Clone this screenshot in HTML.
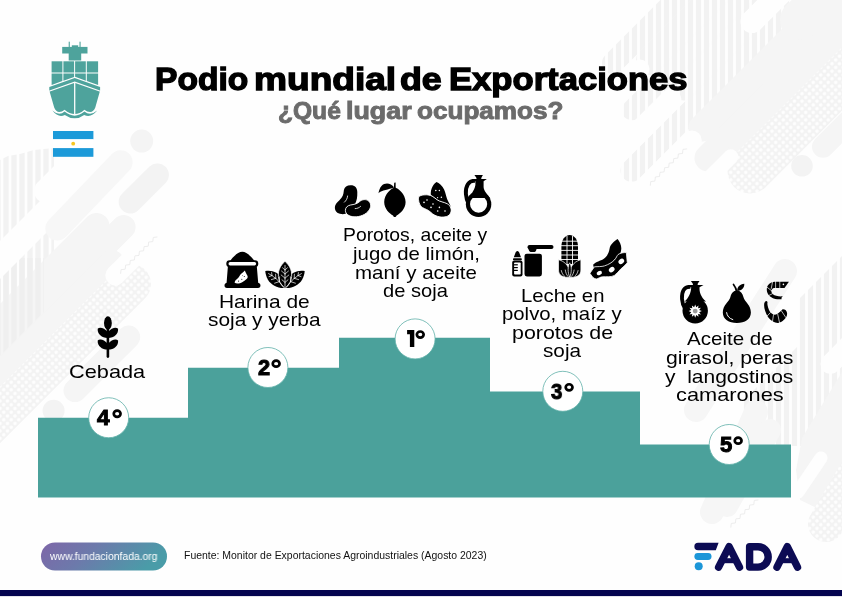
<!DOCTYPE html>
<html lang="es"><head><meta charset="utf-8">
<title>Podio mundial de Exportaciones</title>
<style>
html,body{margin:0;padding:0;}
body{width:842px;height:597px;position:relative;overflow:hidden;background:#fefefe;font-family:"Liberation Sans",sans-serif;color:#000;}
#bg{position:absolute;left:0;top:0;width:842px;height:597px;}
.tx{position:absolute;white-space:nowrap;transform-origin:0 0;font-family:"Liberation Sans",sans-serif;will-change:transform;}
.step{position:absolute;background:#4ca29b;}
.circ{position:absolute;width:38px;height:38px;border-radius:50%;background:#fff;border:1px solid #4ca29b;}
#bar{position:absolute;left:0;top:589.5px;width:842px;height:6.5px;background:#04044f;}
#barb{position:absolute;left:0;top:596px;width:842px;height:1px;background:#e4e4ea;}
#pill{position:absolute;left:41px;top:542.5px;width:126px;height:28px;border-radius:14px;background:linear-gradient(100deg,#7d67a8 0%,#6f78aa 40%,#4b9ba8 100%);}
.ic{position:absolute;}
</style></head><body>
<svg id="bg" viewBox="0 0 842 597">
<defs>
<pattern id="stp" width="8" height="8" patternUnits="userSpaceOnUse"><rect x="0" y="0" width="0.7" height="8" fill="#f2f2f2"/><rect x="3.3" y="0" width="4.7" height="8" fill="#f2f2f2"/></pattern>
<pattern id="stp2" width="8" height="8" patternUnits="userSpaceOnUse"><rect x="0" y="0" width="0.7" height="8" fill="#efefef"/><rect x="3.3" y="0" width="4.7" height="8" fill="#efefef"/></pattern>
<pattern id="stp3" width="8" height="8" patternUnits="userSpaceOnUse"><rect x="0" y="0" width="5.1" height="8" fill="#f2f2f2"/><rect x="7.9" y="0" width="0.1" height="8" fill="#f2f2f2"/></pattern>
<pattern id="dots" width="5.3" height="5.3" patternUnits="userSpaceOnUse" patternTransform="rotate(45)"><rect width="5.3" height="5.3" fill="#f3f3f3"/><circle cx="2.65" cy="2.65" r="1.75" fill="#fefefe"/></pattern>
<linearGradient id="pg" x1="0" y1="0" x2="1" y2="0.25"><stop offset="0" stop-color="#7e66a8"/><stop offset="0.45" stop-color="#6c7aab"/><stop offset="1" stop-color="#4a9ca8"/></linearGradient>
</defs>
<!--BG-->
<g id="decor" fill="none" stroke-linecap="round">
<!-- LEFT -->
<path d="M0,160L8,156L20,154L34,150L54,148V300H0Z" fill="url(#stp)"/>
<g stroke="#f5f5f5">
<line x1="96.5" y1="226" x2="-30" y2="352.5" stroke-width="26"/>
<line x1="123.6" y1="227" x2="-30" y2="380.6" stroke-width="24"/>
<line x1="112" y1="262" x2="-30" y2="404" stroke-width="24"/>
</g>
<path d="M0,258H44V312L0,356Z" fill="url(#stp2)"/>
<line x1="131" y1="284" x2="-30" y2="445" stroke="url(#dots)" stroke-width="40"/>
<g stroke="#fefefe">
<line x1="46" y1="191" x2="120" y2="117" stroke-width="24"/>
<line x1="-12" y1="272" x2="62" y2="198" stroke-width="27"/>
<line x1="115.3" y1="275.4" x2="140" y2="250.7" stroke-width="20"/>
</g>
<line x1="57.3" y1="228.5" x2="120.6" y2="162.2" stroke="#f7f7f7" stroke-width="24"/>
<line x1="130.2" y1="202" x2="157.4" y2="174.9" stroke="#f3f3f3" stroke-width="23"/>
<circle cx="141.7" cy="141.1" r="11.5" fill="#f4f4f4"/>
<line x1="128.7" y1="337" x2="75" y2="390.6" stroke="#f5f5f5" stroke-width="23"/>
<circle cx="53.6" cy="410.8" r="11" fill="#f3f3f3"/>
<path d="M120.6,273.8l0.46,-4.14l4.14,-0.46l0.46,-4.14l4.14,-0.46l0.46,-4.14l4.14,-0.46l0.46,-4.14l4.14,-0.46l0.46,-4.14l4.14,-0.46l0.46,-4.14l4.14,-0.46l0.46,-4.14l4.14,-0.46l0.46,-4.14l4.14,-0.46" stroke="#e9e9e9" stroke-width="0.8" stroke-linecap="butt"/>
<!-- TOP RIGHT -->
<g stroke="url(#stp3)">
<line x1="613" y1="63" x2="710" y2="-34" stroke-width="22"/>
<line x1="650" y1="61" x2="750" y2="-39" stroke-width="28"/>
<line x1="631.5" y1="110.3" x2="790" y2="-48" stroke-width="20"/>
<line x1="684" y1="87" x2="810" y2="-39" stroke-width="27"/>
<line x1="631.5" y1="170.6" x2="850" y2="-48" stroke-width="22"/>
</g>
<g stroke="#f5f5f5">
<line x1="702" y1="128" x2="880" y2="-50" stroke-width="27"/>
<line x1="708" y1="158" x2="900" y2="-34" stroke-width="27"/>
<line x1="738" y1="150" x2="900" y2="-12" stroke-width="20"/>
<line x1="823" y1="146.7" x2="870" y2="99.7" stroke-width="22"/>
<line x1="800" y1="20" x2="870" y2="-50" stroke-width="40"/>
</g>
<line x1="750" y1="171" x2="900" y2="21" stroke="url(#dots)" stroke-width="45"/>
<circle cx="802" cy="165.8" r="10.8" fill="#f3f3f3"/>
<g stroke="#fefefe">
<line x1="640" y1="69" x2="560" y2="149" stroke-width="19"/>
<line x1="670.4" y1="100.2" x2="570" y2="200.6" stroke-width="22"/>
<line x1="691.8" y1="140.4" x2="600" y2="232" stroke-width="20"/>
<line x1="730.8" y1="156.8" x2="700" y2="187.6" stroke-width="15"/>
<line x1="752" y1="21.6" x2="800" y2="-26.4" stroke-width="23"/>
</g>
<path d="M650.3,185.7l0.46,-4.14l4.14,-0.46l0.46,-4.14l4.14,-0.46l0.46,-4.14l4.14,-0.46l0.46,-4.14l4.14,-0.46l0.46,-4.14l4.14,-0.46l0.46,-4.14l4.14,-0.46l0.46,-4.14l4.14,-0.46l0.46,-4.14l4.14,-0.46" stroke="#e9e9e9" stroke-width="0.8" stroke-linecap="butt"/>
<!-- RIGHT BOTTOM -->
<path d="M842,256L798,300V346L742,402V446H842Z" fill="url(#stp3)"/>
<g stroke="#f6f6f6">
<line x1="785" y1="271" x2="696" y2="410" stroke-width="24"/>
<line x1="756" y1="412" x2="712" y2="512" stroke-width="24"/>
<line x1="770" y1="430" x2="727" y2="506" stroke-width="22"/>
<path d="M842,372L802,438L796,470L800,500L842,520Z" fill="#f5f5f5" stroke="none"/>
</g>
<g stroke="#fefefe">
<line x1="798" y1="492" x2="821" y2="458" stroke-width="13"/>
<line x1="830.5" y1="364" x2="860" y2="334" stroke-width="20"/>
</g>
<line x1="826" y1="524" x2="870" y2="450" stroke="url(#dots)" stroke-width="36"/>
<path d="M730.8,527.6l0.46,-4.14l4.14,-0.46l0.46,-4.14l4.14,-0.46l0.46,-4.14l4.14,-0.46l0.46,-4.14l4.14,-0.46l0.46,-4.14l4.14,-0.46l0.46,-4.14l4.14,-0.46" stroke="#e9e9e9" stroke-width="0.8" stroke-linecap="butt"/>
</g>
<!--/BG-->
<!--PODIUM-->
<path fill="#4ba19b" d="M38,417.7H188V367.7H339V337.8H490V391.5H640V444.6H791V497.6H38Z"/>
<g fill="#fff" stroke="#5fb0a8" stroke-width="0.8">
<circle cx="108.7" cy="417.75" r="20"/>
<circle cx="267.9" cy="367.5" r="20"/>
<circle cx="415.1" cy="338.9" r="20"/>
<circle cx="562.8" cy="391.3" r="20"/>
<circle cx="729.2" cy="444.5" r="20"/>
</g>
<g fill="none" stroke="#000" stroke-width="2.7">
<ellipse cx="117.15" cy="413.75" rx="3.4" ry="3.05"/>
<ellipse cx="276.15" cy="363.65" rx="3.4" ry="3.05"/>
<ellipse cx="420.25" cy="334.55" rx="3.4" ry="3.05"/>
<ellipse cx="569.1" cy="387.3" rx="3.4" ry="3.05"/>
<ellipse cx="738.15" cy="440.65" rx="3.4" ry="3.05"/>
</g>
<path fill="#000" d="M407.1,330.1H414.3V346.9H409.9V334.2H407.1Z"/>
<!--/PODIUM-->
<!--ICONS-->
<g id="wheat" fill="#000">
<ellipse cx="107.9" cy="323" rx="3.9" ry="6.7"/>
<rect x="106.6" y="326" width="2.6" height="31.9" rx="1.3"/>
<path d="M97.7,328.7C99.6,327 104.2,327.6 107.9,332.3V337.9C101.8,338 97.3,334 97.7,328.7Z"/>
<path d="M118.1,328.7C116.2,327 111.6,327.6 107.9,332.3V337.9C114,338 118.5,334 118.1,328.7Z"/>
<path d="M97.7,340.4C99.6,338.7 104.2,339.3 107.9,344V349.6C101.8,349.7 97.3,345.7 97.7,340.4Z"/>
<path d="M118.1,340.4C116.2,338.7 111.6,339.3 107.9,344V349.6C114,349.7 118.5,345.7 118.1,340.4Z"/>
</g>
<g id="sack">
<path fill="#000" d="M229.8,261.5C232.5,257.5 237.5,251.8 242.3,251.8C247,251.8 252,257.5 254.8,261.5Z"/>
<rect x="226.3" y="260.3" width="32" height="6.9" rx="3.4" fill="#000"/>
<rect x="228.5" y="262.1" width="27.6" height="3.3" rx="1.65" fill="#fff"/>
<path fill="#000" d="M227.9,266.3H256.8L258.2,282.8C261.2,283.4 261.3,287.9 258,287.9H227C223.7,287.9 223.8,283.4 226.6,282.8Z"/>
<path fill="#fff" d="M234.6,282.8C234.8,280.5 236.5,279.5 237.8,278.3C239.3,277 239.8,275 241.2,273.8C242.6,272.6 243.6,271.6 244.9,270.4C245.6,272.4 246.4,273.8 247.2,275.2C248,276.6 247.9,277.8 246.6,279C245.2,280.3 243.8,281.3 242.2,282.3C240,283.6 236.5,284.2 234.6,282.8Z"/>
<g fill="#000"><circle cx="238.6" cy="281.1" r="0.55"/><circle cx="241.8" cy="279.2" r="0.55"/><circle cx="244.3" cy="276.5" r="0.55"/><circle cx="242.5" cy="275.6" r="0.45"/></g>
</g>
<g id="yerba">
<path fill="#000" d="M265.3,271.1C272,269.8 279,272.8 282.3,278.8C283.8,281.8 284.3,284.8 284.6,288C278,288.5 271,285 267.8,279.4C266.2,276.4 265.4,273.9 265.3,271.1Z"/>
<path fill="#000" d="M304.7,271.1C298,269.8 291,272.8 287.7,278.8C286.2,281.8 285.7,284.8 285.4,288C292,288.5 299,285 302.2,279.4C303.8,276.4 304.6,273.9 304.7,271.1Z"/>
<path fill="#000" stroke="#fff" stroke-width="0.8" d="M285,261.3C290.3,265.8 292.8,272 291.2,279.2C290.2,283.2 287.6,286.6 285,288.3C282.4,286.6 279.8,283.2 278.8,279.2C277.2,272 279.7,265.8 285,261.3Z"/>
<g fill="none" stroke="#fff" stroke-width="0.7" stroke-linecap="round">
<path d="M285,265.5V286.5M285,270L282.6,267.8M285,270L287.4,267.8M285,274L281.5,271M285,274L288.5,271M285,278.2L281.2,275M285,278.2L288.8,275M285,282.4L282,279.8M285,282.4L288,279.8"/>
<path d="M268.6,273.6C274,276.5 279.5,281 283.2,286.6M272,275.6L271.6,272.6M272,275.6L269,276.6M275.8,278.3L275.6,274.2M275.8,278.3L271.4,279.6M279.4,281.6L279.6,276.8M279.4,281.6L274.6,283.2"/>
<path d="M301.4,273.6C296,276.5 290.5,281 286.8,286.6M298,275.6L298.4,272.6M298,275.6L301,276.6M294.2,278.3L294.4,274.2M294.2,278.3L298.6,279.6M290.6,281.6L290.4,276.8M290.6,281.6L295.4,283.2"/>
</g>
</g>
<g id="beans">
<path fill="#000" d="M350.5,185.2C354.6,185 357.3,187.6 357.3,192C357.4,197 357,200.2 355,204.2C352,210.2 347,214.6 341.5,214.1C337,213.7 334.5,210.6 334.9,207C335.3,203.4 339,201 341.4,198C343.8,195 343.4,192.5 343.9,190C344.5,187 347,185.3 350.5,185.2Z"/>
<path fill="#000" stroke="#fff" stroke-width="0.9" d="M345.4,210.6C345.3,207.6 347.4,205.6 350.5,205C354,204.4 357,204 359.6,201.6C362.2,199.2 366,198.9 368.6,201C371.3,203.2 371.2,207 369.2,210C366.2,214.6 360,217.1 354,216.8C349,216.5 345.5,214.1 345.4,210.6Z"/>
<g fill="none" stroke="#fff" stroke-width="0.8" stroke-linecap="round"><path d="M347.6,196C347.4,198.6 346.2,200.6 344.4,202.2"/><path d="M355.2,208.6C357.2,208.6 359.2,207.8 360.6,206.4"/></g>
</g>
<g id="lemon" fill="#000">
<path d="M394.8,187.4C398,187.9 405.6,194 405.6,202C405.6,209 400,213.6 396.6,215.6C396.1,216.6 395.6,217.1 394.8,217.1C394,217.1 393.5,216.6 393,215.6C389.6,213.6 384.2,209 384.2,202C384.2,194 391.6,187.9 394.8,187.4Z"/>
<path d="M393.9,188.5L394.2,182.8L395.6,182.5L395.7,188.5Z"/>
<path d="M394.2,187.6C391,182.9 385,182.4 381.5,185.9C379.7,187.9 379,190.5 378.5,193.3C382,190 388.5,189.8 394.2,187.6Z"/>
</g>
<g id="peanut">
<path fill="#000" d="M436.5,181.9C439,182.9 442.6,186 444.1,189.5C445.6,193 446.1,196 447.1,199C448.1,202 450.1,204 450.8,207C447,203.6 443,202.6 440,201.6C436,200.2 433,196.6 430.9,195.1C430.4,191 431.9,185 436.5,181.9Z"/>
<path fill="#000" stroke="#fff" stroke-width="0.9" d="M418.7,197C419.4,195.4 424,194.5 428,194.9C432,195.3 434,197.4 437,199.7C440,201.9 444,201.9 447.5,203.9C451,205.9 451.9,210 450.6,213C449.1,216.6 444.5,217.6 440,216.9C436,216.3 433,214.6 430.5,212.1C428,209.6 425,209.1 422.5,207.6C419.4,205.6 417.9,200 418.7,197Z"/>
<g fill="#fff"><circle cx="435.8" cy="190.5" r="0.75"/><circle cx="439.4" cy="190.5" r="0.75"/><circle cx="441.4" cy="197.3" r="0.75"/><circle cx="437.6" cy="197.6" r="0.6"/>
<circle cx="427" cy="200" r="0.8"/><circle cx="424" cy="202.4" r="0.8"/><circle cx="433" cy="204" r="0.8"/><circle cx="431" cy="207.4" r="0.8"/><circle cx="439.4" cy="207.4" r="0.8"/><circle cx="437.7" cy="211" r="0.8"/><circle cx="445" cy="211" r="0.8"/></g>
</g>
<g id="bottle">
<circle cx="478.6" cy="204.2" r="12.7" fill="#000"/>
<path fill="#000" d="M474.4,174.9H482.9L481.5,177.4L481.2,179H486.9L483.6,181.3V187C483.8,191 487,194 490.5,198.5H466.5C470.5,195.5 474.3,191 475.4,185L475.4,181.3H473L471.9,179H476.6L476.2,177.4Z"/>
<path fill="none" stroke="#000" stroke-width="3.9" d="M475,181C469,180.2 465.3,186 465.9,194C466.2,198 467.2,201 468.6,203.5"/>
<path fill="#fff" d="M472.6,197.9H484.6A8.6,8.6 0 1 1 472.6,197.9Z"/>
</g>
<g id="milk">
<rect x="524.5" y="253.8" width="17.4" height="22.6" rx="2.3" fill="#000"/>
<rect x="527.5" y="245" width="26" height="4.1" rx="2" fill="#000"/>
<path fill="#000" d="M527.6,247H537.2L536,250.8C535.8,251.5 535.3,251.9 534.6,251.9H530.6C529.9,251.9 529.4,251.5 529.1,250.8Z"/>
<path fill="#000" d="M517.4,250.9C518.5,250.9 519,251.9 519.4,253L521,257.3H513.8L515.4,253C515.8,251.9 516.3,250.9 517.4,250.9Z"/>
<rect x="513" y="258.2" width="8.8" height="2" rx="0.8" fill="#000"/>
<rect x="512.2" y="260.6" width="10.3" height="15.8" rx="2" fill="#000"/>
<rect x="514.1" y="262.4" width="6.6" height="12.2" rx="0.8" fill="#fff"/>
<g fill="#000"><rect x="514" y="264.2" width="3.8" height="1.2"/><rect x="514" y="267" width="3.8" height="1.2"/><rect x="514" y="269.8" width="3.8" height="1.2"/></g>
</g>
<g id="corn">
<path fill="#000" d="M561.4,264V246.5C561.4,240 565,235 569.7,235C574.4,235 578,240 578,246.5V264Z"/>
<g fill="none" stroke="#fff" stroke-width="0.9"><path d="M567,236V264M572.5,236V264" /><path d="M560,241.2H580M560,245.7H580M560,250.4H580M560,255H580M560,259.5H580"/></g>
<path fill="#000" stroke="#fff" stroke-width="0.7" d="M569.7,277.2C563,277.8 558.6,275.5 558.5,270V259.8C563.5,260.8 568.6,265 569.7,271.5Z"/>
<path fill="#000" stroke="#fff" stroke-width="0.7" d="M569.7,277.2C576.4,277.8 580.8,275.5 580.9,270V259.8C575.9,260.8 570.8,265 569.7,271.5Z"/>
<path fill="#000" stroke="#fff" stroke-width="0.7" d="M569.7,262.8C571.8,266 571.8,272.5 569.7,277.2C567.6,272.5 567.6,266 569.7,262.8Z"/>
<g fill="none" stroke="#fff" stroke-width="0.7" stroke-linecap="round"><path d="M561.3,270.5C561.8,273 563,275 564.6,276.3M565.3,270C565.6,272.6 566.6,274.8 567.8,276.3M578.1,270.5C577.6,273 576.4,275 574.8,276.3M574.1,270C573.8,272.6 572.8,274.8 571.6,276.3"/></g>
</g>
<g id="soy">
<path fill="#000" d="M593.1,264.8C596,261.5 600.5,261 603.5,259C607,256.5 609,253 609.6,248.5C610.2,244.5 614.5,241 617.6,239C619.6,241.5 621.4,245 621.3,248.5C621.2,251 620.5,253 619.8,254.5L608,266L594,268Z"/>
<path fill="#000" stroke="#fff" stroke-width="0.8" stroke-linejoin="round" d="M589.9,273.3L594.4,266.8C598,266.5 601.5,266.8 604.4,265.9C608.5,264.6 612,262.5 614.4,260C616.5,257.8 616.8,255.8 618,254.6C620.5,252.8 623.5,252.6 626.3,252.5L627.3,262.8C625.5,265 623,267 620.7,269.1C618.5,271.2 617,273.8 614.4,275.4C611,277.4 606.5,276.5 602.6,276.8C600,277 598.5,278.5 596.3,279C594.8,278.8 593.7,278 592.7,277.2Z"/>
<g fill="#fff"><ellipse cx="599.3" cy="273" rx="2.8" ry="2" transform="rotate(-28 599.3 273)"/><ellipse cx="611.7" cy="269.6" rx="3.1" ry="2.4" transform="rotate(-38 611.7 269.6)"/><ellipse cx="621.3" cy="261.4" rx="3.1" ry="2.4" transform="rotate(-38 621.3 261.4)"/></g>
</g>
<g id="jug">
<circle cx="695.2" cy="310.7" r="12.7" fill="#000"/>
<path fill="#000" d="M690.9,280.9H699.5L697.8,283.5L697.6,285H703.5L699.5,287.2C699.3,292 700.5,296.5 706,301.5H684.5C688.5,298 691,293 691.2,287.2H689L687.9,285H693L692.7,283.5Z"/>
<path fill="none" stroke="#000" stroke-width="3.8" d="M690.5,287C684,286.2 681.5,292 682,299C682.3,303 683.4,306 685,308.5"/>
<path fill="#fff" d="M695.20,304.50L696.26,307.14L698.50,305.38L698.10,308.20L700.92,307.80L699.16,310.04L701.80,311.10L699.16,312.16L700.92,314.40L698.10,314.00L698.50,316.82L696.26,315.06L695.20,317.70L694.14,315.06L691.90,316.82L692.30,314.00L689.48,314.40L691.24,312.16L688.60,311.10L691.24,310.04L689.48,307.80L692.30,308.20L691.90,305.38L694.14,307.14Z"/>
<circle cx="695.2" cy="311.1" r="2.4" fill="#9a9a9a"/>
</g>
<g id="pear">
<path fill="#000" d="M736.9,290.4C740.6,290.4 742.6,293.5 743.4,297C744.6,302 750.9,305 750.9,312.5C750.9,319 745,323 736.9,323C728.8,323 722.8,319 722.8,312.5C722.8,305 729.2,302 730.4,297C731.2,293.5 733.2,290.4 736.9,290.4Z"/>
<path fill="none" stroke="#000" stroke-width="1.7" stroke-linecap="round" d="M736.8,292C736.3,289 735,286.4 733.5,284.5"/>
<path fill="#000" d="M737.2,291C737,287 739.8,284.2 744.3,283.8C744.6,288 741.6,290.8 737.2,291Z"/>
<path fill="none" stroke="#fff" stroke-width="1" stroke-linecap="round" d="M726.6,312.6C727,316 729.4,318.6 732.8,319.6"/>
</g>
<g id="shrimp">
<path fill="#000" d="M780.2,281.7H788.9L784.5,288H780.2Z"/>
<circle cx="783.4" cy="284.4" r="0.8" fill="#fff"/>
<path fill="#000" d="M779.5,281.7H774.3C772.8,281.9 771.2,282.5 770,283.2C768.3,284.3 767.4,285.8 767,287.5C766.6,289.3 766.8,291.3 767.5,292.9C768.2,294.6 769.4,296 770.9,297C772.2,297.9 773.7,298.6 775.3,299C777.4,299.4 779.5,299.4 781.6,299.2C781.2,297.6 782,296.8 782.9,296.3C780.7,296.5 778.4,296.4 776.3,295.8C775,295.5 773.8,295 772.9,294.3C772,293.5 771.5,292.5 771.4,291.4C771.3,290.7 771.5,290 771.9,289.5C772.4,288.8 773,288.3 773.8,288H779.5Z"/>
<g fill="none" stroke="#fff" stroke-width="0.7"><path d="M775.6,281V288.6M772.6,281.6L771.2,288.8M767,287.2L772.2,291.2M768.6,295.6L772.6,293.6"/></g>
<path fill="#000" d="M765.1,301.6C764.3,302.7 764,303.9 764.1,305C764.1,307 764.5,309 765.1,310.8C765.8,313.1 766.8,315.2 768,317.1C769.3,318.9 771,320.4 772.9,321.5C774.4,322.4 776,322.9 777.7,323C779.5,322.8 781.2,322.1 782.6,321C784,320 785.2,318.9 786,317.6C786.8,316.3 787.2,314.8 787.1,313.3C787,312 786.4,310.8 785.5,309.9C784.7,309.3 783.7,309.1 782.6,309.2C782.2,309.8 781.7,310.3 781.1,310.8C780.3,311.8 779.3,312.6 778.2,313.3C777.2,314 776,314.6 774.8,314.7C773.5,314.6 772.3,314.1 771.4,313.3C770.3,312.4 769.5,311.2 769,309.9C768.3,308.4 767.8,306.7 767.5,305C767.3,304 767.3,303 767.5,302.1C767.3,301.6 767,301.3 766.6,301.1Z"/>
<g fill="none" stroke="#fff" stroke-width="0.7"><path d="M770.6,312.4L766.6,316.6M773.6,314.2L772.4,322M777.6,313.6L779.6,323M781.2,310.6L786,317.8"/></g>
</g>
<!--/ICONS-->
<!--SHIP-->
<g fill="#4ea39c">
<rect x="68.7" y="41.7" width="1.1" height="5.5"/><rect x="79.5" y="41.7" width="1.1" height="5.5"/>
<rect x="71.8" y="45.3" width="6.4" height="2"/>
<rect x="62.2" y="46.9" width="25.3" height="6.6"/>
<rect x="68.7" y="53" width="12.5" height="7.5"/>
<rect x="51.6" y="61.3" width="10.8" height="11.2"/><rect x="63.4" y="61.3" width="10.7" height="11.2"/><rect x="75.1" y="61.3" width="10.7" height="11.2"/><rect x="86.8" y="61.3" width="11.3" height="11.2"/>
<path d="M51.6,73.5H62.4V81.1L51.6,85Z"/><path d="M63.4,73.5H74.1V76.9L63.4,80.75Z"/><path d="M75.1,73.5H85.8V80.7L75.1,76.85Z"/><path d="M86.8,73.5H98.1V85.1L86.8,81Z"/>
<path d="M49.3,87.1L74.7,78L100.1,87.1V90.6L95.3,107.5Q93.5,111.8 90.2,112Q87,112 84.4,109.7Q74.8,118.4 64.6,109.7Q62,112 59.2,112Q56,111.8 54.2,107.5L49.3,90.6Z"/>
</g>
<g fill="none" stroke="#fdfdfd" stroke-width="1">
<path d="M49,91.2L74.7,82.2L100.4,91.2" stroke-width="1.2"/><path d="M74.7,82V114.2" stroke-width="1.3"/>
</g>
<path d="M52.3,110.6Q59,116.4 64.6,111.6Q74.8,119.8 84.4,111.6Q90.5,116.4 97.2,110.6Q90.8,118.4 84.2,114.9Q74.8,121.8 64.8,114.9Q58.7,118.4 52.3,110.6Z" fill="#4ea39c"/>
<rect x="53" y="131" width="40.4" height="8.3" fill="#1c9ad9"/><rect x="53" y="139.3" width="40.4" height="8.8" fill="#ffffff"/><rect x="53" y="148.1" width="40.4" height="8.7" fill="#1c9ad9"/>
<circle cx="73.2" cy="143.7" r="1.9" fill="#f7c51e"/>
<!--/SHIP-->
<!--LOGO-->
<path d="M698.1,542.8H718.6L715.8,550.3H698.1A3.75,3.75 0 0 1 698.1,542.8Z" fill="#0c0b54"/>
<path d="M697.8,556.5H708.1" stroke="#1c96d8" stroke-width="6.8" stroke-linecap="round" fill="none"/>
<circle cx="698.7" cy="566.2" r="4" fill="#1c96d8"/>
<g fill="none" stroke="#0c0b54" stroke-width="7.4" stroke-linecap="round" stroke-linejoin="round">
<path d="M718.6,567.1L729.1,546.6L739.5,567.1"/>
<path d="M749.6,546.7H758a10.2,10.2 0 0 1 0,20.4H749.6Z"/>
<path d="M777,567.1L787.3,546.6L797.5,567.1"/>
</g>
<g fill="none" stroke="#0c0b54" stroke-width="5"><path d="M722.6,560.7H735.6"/><path d="M780.9,560.7H793.7"/></g>
<!--/LOGO-->
<rect x="41" y="542.5" width="126" height="28" rx="14" fill="url(#pg)"/>
</svg>
<!--TEXT-->
<div class="tx" style="left:69.39px;top:361.92px;line-height:19px;font-size:19px;font-weight:normal;color:#000;transform:scaleX(1.1447);">Cebada</div>
<div class="tx" style="left:218.90px;top:291.92px;line-height:19px;font-size:19px;font-weight:normal;color:#000;transform:scaleX(1.1011);">Harina de</div>
<div class="tx" style="left:207.71px;top:310.42px;line-height:19px;font-size:19px;font-weight:normal;color:#000;transform:scaleX(1.0990);">soja y yerba</div>
<div class="tx" style="left:343.09px;top:224.82px;line-height:19px;font-size:19px;font-weight:normal;color:#000;transform:scaleX(1.0186);">Porotos, aceite y</div>
<div class="tx" style="left:353.18px;top:243.92px;line-height:19px;font-size:19px;font-weight:normal;color:#000;transform:scaleX(1.0735);">jugo de limón,</div>
<div class="tx" style="left:354.66px;top:262.52px;line-height:19px;font-size:19px;font-weight:normal;color:#000;transform:scaleX(1.0786);">maní y aceite</div>
<div class="tx" style="left:383.26px;top:281.42px;line-height:19px;font-size:19px;font-weight:normal;color:#000;transform:scaleX(1.0584);">de soja</div>
<div class="tx" style="left:520.94px;top:285.62px;line-height:19px;font-size:19px;font-weight:normal;color:#000;transform:scaleX(1.0669);">Leche en</div>
<div class="tx" style="left:502.07px;top:304.42px;line-height:19px;font-size:19px;font-weight:normal;color:#000;transform:scaleX(1.0701);">polvo, maíz y</div>
<div class="tx" style="left:511.61px;top:323.32px;line-height:19px;font-size:19px;font-weight:normal;color:#000;transform:scaleX(1.1262);">porotos de</div>
<div class="tx" style="left:542.72px;top:341.42px;line-height:19px;font-size:19px;font-weight:normal;color:#000;transform:scaleX(1.0917);">soja</div>
<div class="tx" style="left:687.04px;top:329.32px;line-height:19px;font-size:19px;font-weight:normal;color:#000;transform:scaleX(1.0816);">Aceite de</div>
<div class="tx" style="left:666.22px;top:348.22px;line-height:19px;font-size:19px;font-weight:normal;color:#000;transform:scaleX(1.1164);">girasol, peras</div>
<div class="tx" style="left:665.14px;top:367.02px;line-height:19px;font-size:19px;font-weight:normal;color:#000;transform:scaleX(1.1046);">y  langostinos</div>
<div class="tx" style="left:676.29px;top:385.42px;line-height:19px;font-size:19px;font-weight:normal;color:#000;transform:scaleX(1.1459);">camarones</div>
<div class="tx" style="left:97.32px;top:406.68px;line-height:22px;font-size:22px;font-weight:bold;color:#000;-webkit-text-stroke:1.0px #000;transform:scaleX(1.0269);">4</div>
<div class="tx" style="left:258.03px;top:356.68px;line-height:22px;font-size:22px;font-weight:bold;color:#000;-webkit-text-stroke:1.0px #000;transform:scaleX(0.9877);">2</div>
<div class="tx" style="left:550.99px;top:380.78px;line-height:22px;font-size:22px;font-weight:bold;color:#000;-webkit-text-stroke:1.0px #000;transform:scaleX(0.9233);">3</div>
<div class="tx" style="left:719.73px;top:433.98px;line-height:22px;font-size:22px;font-weight:bold;color:#000;-webkit-text-stroke:1.0px #000;transform:scaleX(1.0005);">5</div>
<div class="tx" style="left:154.64px;top:63.94px;line-height:31.5px;font-size:31.5px;font-weight:bold;color:#000;-webkit-text-stroke:1.3px #000;transform:scaleX(1.0659);">Podio</div>
<div class="tx" style="left:253.83px;top:63.94px;line-height:31.5px;font-size:31.5px;font-weight:bold;color:#000;-webkit-text-stroke:1.3px #000;transform:scaleX(1.1774);">mundial</div>
<div class="tx" style="left:400.34px;top:63.94px;line-height:31.5px;font-size:31.5px;font-weight:bold;color:#000;-webkit-text-stroke:1.3px #000;transform:scaleX(1.1362);">de</div>
<div class="tx" style="left:449.41px;top:63.94px;line-height:31.5px;font-size:31.5px;font-weight:bold;color:#000;-webkit-text-stroke:1.3px #000;transform:scaleX(1.0991);">Exportaciones</div>
<div class="tx" style="left:278.16px;top:99.63px;line-height:23px;font-size:23px;font-weight:bold;color:#6b6b6b;-webkit-text-stroke:0.9px #6b6b6b;transform:scaleX(1.0683);">¿Qué</div>
<div class="tx" style="left:346.31px;top:99.63px;line-height:23px;font-size:23px;font-weight:bold;color:#6b6b6b;-webkit-text-stroke:0.9px #6b6b6b;transform:scaleX(1.1674);">lugar</div>
<div class="tx" style="left:417.11px;top:99.63px;line-height:23px;font-size:23px;font-weight:bold;color:#6b6b6b;-webkit-text-stroke:0.9px #6b6b6b;transform:scaleX(1.1350);">ocupamos?</div>
<div class="tx" style="left:183.79px;top:551.38px;line-height:10.3px;font-size:10.3px;font-weight:normal;color:#111;transform:scaleX(1.0151);">Fuente: Monitor de Exportaciones Agroindustriales (Agosto 2023)</div>
<div class="tx" style="left:50.17px;top:551.11px;line-height:10.5px;font-size:10.5px;font-weight:normal;color:#fff;transform:scaleX(0.9846);">www.fundacionfada.org</div>
<!--/TEXT-->
<div id="bar"></div><div id="barb"></div>
</body></html>
